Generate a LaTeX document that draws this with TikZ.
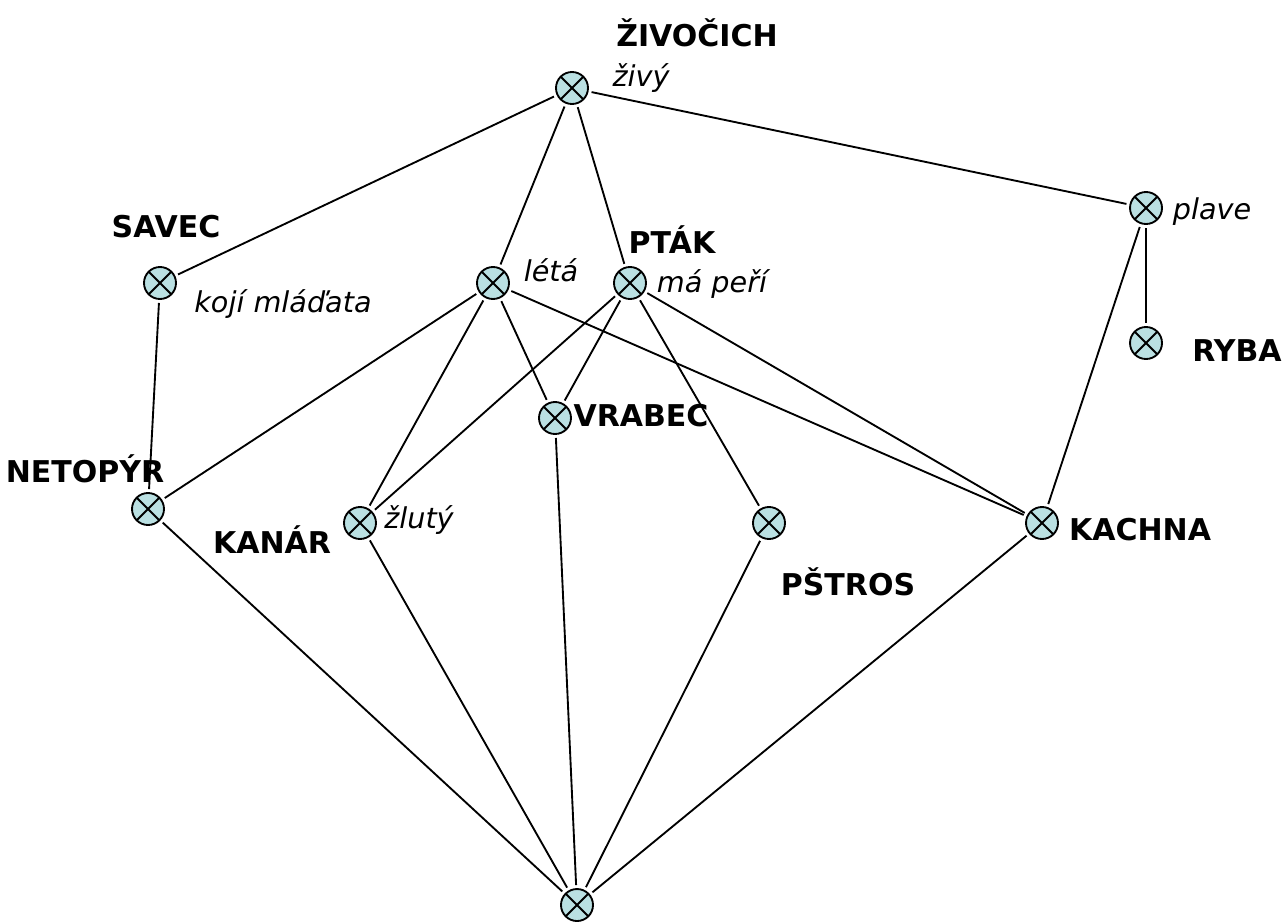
\documentclass[tikz,border=0pt]{standalone}
\usepackage{fontspec}
\setmainfont{DejaVu Sans}
\usetikzlibrary{positioning}
\definecolor{uzel}{RGB}{186,224,226}

\begin{document}
\begin{tikzpicture}[x=0.75pt, y=-0.75pt, line width=1.4pt,
    main/.style = {draw, circle, fill=uzel, minimum size=24pt, inner sep=0pt, outer sep=3pt,
        path picture={\draw[line width=1.4pt] (path picture bounding box.north west) -- (path picture bounding box.south east)
            (path picture bounding box.north east) -- (path picture bounding box.south west);}},
    nazev/.style = {font=\bfseries\fontsize{22.5}{25}\selectfont},
    vlast/.style = {font=\itshape\fontsize{21.5}{24}\selectfont}]
            \useasboundingbox (0,0) rectangle (1285,922);
            % Nodes
            \node[main] (zivocich) at (572,88) {};
            \node[main] (savec) at (160,283) {};
            \node[main] (leta) at (493,283) {};
            \node[main] (ptak) at (630,283) {};
            \node[main] (plave) at (1146,208) {};
            \node[main] (ryba) at (1146,343) {};
            \node[main] (vrabec) at (555,418) {};
            \node[main] (netopyr) at (148,509) {};
            \node[main] (kanar) at (360,523) {};
            \node[main] (pstros) at (769,523) {};
            \node[main] (kachna) at (1042,523) {};
            \node[main] (dno) at (577,905) {};
            % Labels
            \node[nazev] (zivocichL) at (697,33) {ŽIVOČICH};
            \node[vlast] (zivocichA) at (641,78) {živý};
            \node[nazev] (savecL) at (166,227) {SAVEC};
            \node[vlast] (savecA) at (283,304) {kojí mláďata};
            \node[vlast] (letaA) at (551,270) {létá};
            \node[nazev] (ptakL) at (672,240) {PTÁK};
            \node[vlast] (ptakA) at (712,284) {má peří};
            \node[vlast] (plaveA) at (1212,212) {plave};
            \node[nazev] (rybaL) at (1237,351) {RYBA};
            \node[nazev] (vrabecL) at (641,416) {VRABEC};
            \node[nazev] (netopyrL) at (85,469) {NETOPÝR};
            \node[nazev] (kanarL) at (272,540) {KANÁR};
            \node[vlast] (kanarA) at (419,520) {žlutý};
            \node[nazev] (pstrosL) at (848,582) {PŠTROS};
            \node[nazev] (kachnaL) at (1140,530) {KACHNA};
            % Edges
            \draw (zivocich) -- (savec);
            \draw (zivocich) -- (leta);
            \draw (zivocich) -- (ptak);
            \draw (zivocich) -- (plave);
            \draw (savec) -- (netopyr);
            \draw (leta) -- (netopyr);
            \draw (leta) -- (kanar);
            \draw (leta) -- (vrabec);
            \draw (leta) -- (kachna);
            \draw (ptak) -- (kanar);
            \draw (ptak) -- (vrabec);
            \draw (ptak) -- (pstros);
            \draw (ptak) -- (kachna);
            \draw (plave) -- (ryba);
            \draw (plave) -- (kachna);
            \draw (dno) -- (netopyr);
            \draw (dno) -- (kanar);
            \draw (dno) -- (vrabec);
            \draw (dno) -- (pstros);
            \draw (dno) -- (kachna);
            \end{tikzpicture}
\end{document}
